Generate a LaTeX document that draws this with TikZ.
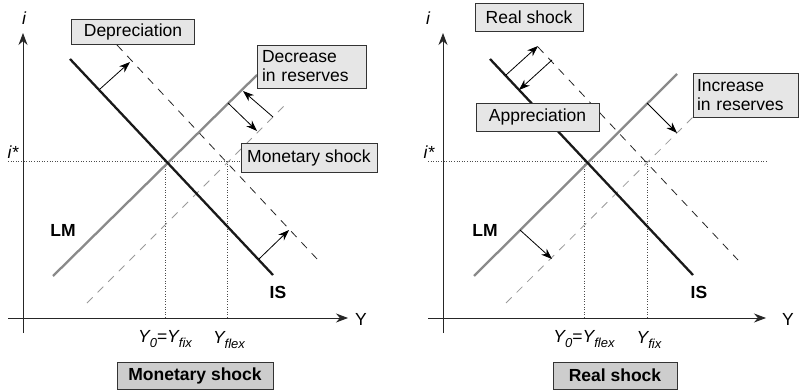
\documentclass[tikz,border=0pt]{standalone}
\usepackage{fontspec}
\setmainfont{Liberation Sans}
\usetikzlibrary{arrows.meta}
\definecolor{boxfill}{HTML}{E6E6E6}
\definecolor{boxfilldark}{HTML}{CDCDCD}
\definecolor{lmgray}{HTML}{8A8A8A}
\definecolor{lmdash}{HTML}{9A9A9A}
\newcommand\mysub[1]{\raisebox{-0.45ex}{\fontsize{13}{13}\selectfont\itshape #1}}
\tikzset{
  base/.style={font=\fontsize{17.5}{20}\selectfont},
  labbox/.style={base, draw=black!80, line width=0.8pt, fill=boxfill, inner sep=0pt, align=center},
  botbox/.style={labbox, fill=boxfilldark, font=\fontsize{17.5}{20}\selectfont\bfseries},
  iscurve/.style={black!90, line width=2.3pt},
  lmcurve/.style={lmgray, line width=2.3pt},
  isdash/.style={black!85, line width=0.8pt, dash pattern=on 8pt off 7pt},
  lmdashed/.style={lmdash, line width=0.8pt, dash pattern=on 8pt off 7pt},
  axisline/.style={black!85, line width=0.9pt},
  axisarrow/.style={axisline, -{Stealth[length=12pt,width=9pt]}},
  guide/.style={black!70, line width=0.6pt, dotted},
  shiftarrow/.style={black, line width=0.8pt, -{Stealth[length=11pt,width=8pt]}},
  txt/.style={base, inner sep=0pt},
}
\begin{document}
\begin{tikzpicture}[x=1pt,y=-1pt]
\useasboundingbox (0,0) rectangle (799,390);

% ===== left panel =====
\coordinate (ya1) at (23,333); \coordinate (yb1) at (23,33);
\coordinate (xa1) at (8,318); \coordinate (xb1) at (348,318);
\draw[axisarrow] (ya1) -- (yb1);
\draw[axisarrow] (xa1) -- (xb1);
\coordinate (ia1) at (8,161); \coordinate (ib1) at (240,161);
\draw[guide] (ia1) -- (ib1);
\coordinate (v1a) at (165,161); \coordinate (v1b) at (165,318);
\coordinate (v2a) at (227,161); \coordinate (v2b) at (227,318);
\draw[guide] (v1a) -- (v1b);
\draw[guide] (v2a) -- (v2b);

\coordinate (is1a) at (70,59); \coordinate (is1b) at (273,275);
\coordinate (is1da) at (117,45); \coordinate (is1db) at (318,260);
\coordinate (lm1a) at (53,276); \coordinate (lm1b) at (257,75);
\coordinate (lm1da) at (87,303); \coordinate (lm1db) at (287,103);
\draw[isdash] (is1da) -- (is1db);
\draw[lmdashed] (lm1da) -- (lm1db);
\draw[lmcurve] (lm1a) -- (lm1b);
\draw[iscurve] (is1a) -- (is1b);

\coordinate (a1s) at (100,89); \coordinate (a1e) at (130,62);
\coordinate (a2s) at (228,103); \coordinate (a2e) at (257,131);
\coordinate (a3s) at (273,117); \coordinate (a3e) at (243,91);
\coordinate (a4s) at (259,259); \coordinate (a4e) at (289,230);
\draw[shiftarrow] (a1s) -- (a1e);
\draw[shiftarrow] (a2s) -- (a2e);
\draw[shiftarrow] (a3s) -- (a3e);
\draw[shiftarrow] (a4s) -- (a4e);

\node[txt, font=\fontsize{17.5}{20}\selectfont\itshape] (il1) at (24,18) {i};
\node[txt, font=\fontsize{17.5}{20}\selectfont\itshape] (is1lab) at (13,152) {i*};
\node[txt] (Yl1) at (361,319) {Y};
\node[txt, font=\fontsize{17.5}{20}\selectfont\bfseries] (LM1) at (63,230) {LM};
\node[txt, font=\fontsize{17.5}{20}\selectfont\bfseries] (IS1) at (278,292) {IS};
\node[txt] (y0l) at (165,339) {\itshape Y\mysub{0}\upshape=\itshape Y\mysub{fix}};
\node[txt] (yfl) at (229,340) {\itshape Y\mysub{flex}};

\node[labbox, minimum width=123pt, minimum height=25pt] (dep) at (133,31.5) {Depreciation};
\node[labbox, minimum width=109pt, minimum height=43pt, text width=99pt, align=left] (dec) at (311.5,66.5) {Decrease\\[-1pt]in reserves};
\node[labbox, minimum width=136pt, minimum height=29pt] (mon) at (309,158) {Monetary shock};
\node[botbox, minimum width=156pt, minimum height=27pt] (monb) at (195,375.5) {Monetary shock};

% ===== right panel =====
\coordinate (ya2) at (443,333); \coordinate (yb2) at (443,33);
\coordinate (xa2) at (428,318); \coordinate (xb2) at (766,318);
\draw[axisarrow] (ya2) -- (yb2);
\draw[axisarrow] (xa2) -- (xb2);
\coordinate (ia2) at (428,161); \coordinate (ib2) at (768,161);
\draw[guide] (ia2) -- (ib2);
\coordinate (v3a) at (584,161); \coordinate (v3b) at (584,318);
\coordinate (v4a) at (647,161); \coordinate (v4b) at (647,318);
\draw[guide] (v3a) -- (v3b);
\draw[guide] (v4a) -- (v4b);

\coordinate (is2a) at (490,59); \coordinate (is2b) at (693,275);
\coordinate (is2da) at (538,47); \coordinate (is2db) at (738,260);
\coordinate (lm2a) at (474,276); \coordinate (lm2b) at (677,74);
\coordinate (lm2da) at (506,303); \coordinate (lm2db) at (693,117);
\draw[isdash] (is2da) -- (is2db);
\draw[lmdashed] (lm2da) -- (lm2db);
\draw[lmcurve] (lm2a) -- (lm2b);
\draw[iscurve] (is2a) -- (is2b);

\coordinate (b1s) at (506,75); \coordinate (b1e) at (538,46);
\coordinate (b2s) at (552,60); \coordinate (b2e) at (519,90);
\coordinate (b3s) at (647,103); \coordinate (b3e) at (677,133);
\coordinate (b4s) at (520,230); \coordinate (b4e) at (552,259);
\draw[shiftarrow] (b1s) -- (b1e);
\draw[shiftarrow] (b2s) -- (b2e);
\draw[shiftarrow] (b3s) -- (b3e);
\draw[shiftarrow] (b4s) -- (b4e);

\node[txt, font=\fontsize{17.5}{20}\selectfont\itshape] (il2) at (428,18) {i};
\node[txt, font=\fontsize{17.5}{20}\selectfont\itshape] (is2lab) at (429,152) {i*};
\node[txt] (Yl2) at (788,319) {Y};
\node[txt, font=\fontsize{17.5}{20}\selectfont\bfseries] (LM2) at (485,230) {LM};
\node[txt, font=\fontsize{17.5}{20}\selectfont\bfseries] (IS2) at (699,292) {IS};
\node[txt] (y0r) at (584,339) {\itshape Y\mysub{0}\upshape=\itshape Y\mysub{flex}};
\node[txt] (yfr) at (649,340) {\itshape Y\mysub{fix}};

\node[labbox, minimum width=108pt, minimum height=28pt] (real) at (529,17) {Real shock};
\node[labbox, minimum width=123pt, minimum height=28pt] (app) at (537.5,117) {Appreciation};
\node[labbox, minimum width=105pt, minimum height=44pt, text width=97pt, align=left] (inc) at (745.5,95) {Increase\\[-1pt]in reserves};
\node[botbox, minimum width=124pt, minimum height=27pt] (realb) at (615,375.5) {Real shock};
\end{tikzpicture}
\end{document}
